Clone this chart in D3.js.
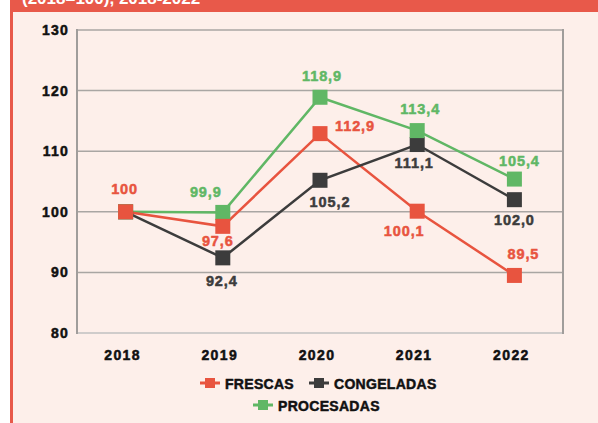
<!DOCTYPE html>
<html>
<head>
<meta charset="utf-8">
<script src="https://cdn.jsdelivr.net/npm/d3@7"></script>
<style>
  html, body { margin: 0; padding: 0; background: #fff; }
  svg { display: block; }
  /* the source type is a heavy grotesque; thicken the bold a little */
  text.heavy { paint-order: stroke; stroke-width: 0.5px; stroke-linejoin: round; }
</style>
</head>
<body>
<div id="chart"></div>
<script>
// data
const years = ["2018", "2019", "2020", "2021", "2022"];
const frescas = [100, 97.6, 112.9, 100.1, 89.5];
const congeladas = [100, 92.4, 105.2, 111.1, 102.0];
const procesadas = [100, 99.9, 118.9, 113.4, 105.4];
const yTicks = [80, 90, 100, 110, 120, 130];
const seriesNames = ["FRESCAS", "CONGELADAS", "PROCESADAS"];
// which points get a value label (2018 only labelled once, on FRESCAS)
const frescasLabels = ["100", "97,6", "112,9", "100,1", "89,5"];
const congeladasLabels = [null, "92,4", "105,2", "111,1", "102,0"];
const procesadasLabels = [null, "99,9", "118,9", "113,4", "105,4"];

// label offsets from the marker centre [dx, dy]
const frescasOff = [[-1, -23], [-5, 15], [35, -8], [-13, 20], [9, -21]];
const congeladasOff = [null, [-1, 23], [10, 22], [-3, 18], [0, 20]];
const procesadasOff = [null, [-17, -20], [2, -21], [3, -22], [5, -18]];

const colors = { red: "#e8543f", dark: "#3c3c3c", green: "#60b765" };
const FONT = "'Liberation Sans', Arial, Helvetica, sans-serif";

(function () {
  const width = 598, height = 423;
  const svg = d3.select("#chart").append("svg")
    .attr("width", width)
    .attr("height", height);

  // page background + red frame bits
  svg.append("rect").attr("x", 0).attr("y", 0).attr("width", width).attr("height", height).attr("fill", "#fff");
  svg.append("rect").attr("x", 10).attr("y", 0).attr("width", width - 10).attr("height", height).attr("fill", "#fdefea");
  svg.append("rect").attr("x", 10).attr("y", 0).attr("width", 3).attr("height", height).attr("fill", "#e8594a");
  svg.append("rect").attr("x", 10).attr("y", 0).attr("width", width - 10).attr("height", 12).attr("fill", "#e8594a");
  // header text, clipped at the top edge like the source crop
  svg.append("text")
    .attr("x", 22).attr("y", 4)
    .attr("font-family", FONT).attr("font-weight", "bold").attr("font-size", 17)
    .attr("fill", "#fff")
    .text("(2018=100), 2018-2022");

  const plot = { left: 77, right: 563, top: 30, bottom: 333 };

  const x = d3.scalePoint()
    .domain(years)
    .range([plot.left, plot.right])
    .padding(0.5);

  const y = d3.scaleLinear()
    .domain([80, 130])
    .range([plot.bottom, plot.top]);

  // gridlines
  svg.append("g").selectAll("line")
    .data(yTicks.filter(t => t > 80))
    .enter().append("line")
    .attr("x1", plot.left).attr("x2", plot.right)
    .attr("y1", d => y(d)).attr("y2", d => y(d))
    .attr("stroke", "#a9a6a3").attr("stroke-width", 1.5);

  // bottom axis line (lighter)
  svg.append("line")
    .attr("x1", plot.left).attr("x2", plot.right)
    .attr("y1", y(80)).attr("y2", y(80))
    .attr("stroke", "#cfcccb").attr("stroke-width", 2);

  // side frame
  svg.append("line")
    .attr("x1", plot.left).attr("x2", plot.left)
    .attr("y1", y(130) - 1).attr("y2", y(80) + 1)
    .attr("stroke", "#a09d9b").attr("stroke-width", 2);
  svg.append("line")
    .attr("x1", plot.right).attr("x2", plot.right)
    .attr("y1", y(130) - 1).attr("y2", y(80) + 1)
    .attr("stroke", "#a09d9b").attr("stroke-width", 2);

  // y tick labels
  svg.append("g").selectAll("text")
    .data(yTicks)
    .enter().append("text")
    .attr("class", "heavy")
    .attr("x", plot.left - 8)
    .attr("y", d => y(d) + 5)
    .attr("text-anchor", "end")
    .attr("font-family", FONT).attr("font-weight", "bold").attr("font-size", 14)
    .attr("letter-spacing", 1.2)
    .attr("fill", "#111").attr("stroke", "#111")
    .text(d => d);

  // x tick labels
  svg.append("g").selectAll("text")
    .data(years)
    .enter().append("text")
    .attr("class", "heavy")
    .attr("x", d => x(d) - 3)
    .attr("y", 360)
    .attr("text-anchor", "middle")
    .attr("font-family", FONT).attr("font-weight", "bold").attr("font-size", 14)
    .attr("letter-spacing", 1.4)
    .attr("fill", "#111").attr("stroke", "#111")
    .text(d => d);

  const series = [
    { name: seriesNames[0], values: frescas, labels: frescasLabels, off: frescasOff, color: colors.red },
    { name: seriesNames[1], values: congeladas, labels: congeladasLabels, off: congeladasOff, color: colors.dark },
    { name: seriesNames[2], values: procesadas, labels: procesadasLabels, off: procesadasOff, color: colors.green }
  ];

  const line = d3.line()
    .x((d, i) => x(years[i]))
    .y(d => y(d));

  const S = 15; // marker size

  const drawOrder = [series[2], series[0], series[1]];
  drawOrder.forEach(s => {
    svg.append("path")
      .datum(s.values)
      .attr("d", line)
      .attr("fill", "none")
      .attr("stroke", s.color)
      .attr("stroke-width", 2.5);
  });
  // markers
  const markerOrder = [series[1], series[2], series[0]];
  markerOrder.forEach(s => {
    svg.append("g").selectAll("rect")
      .data(s.values)
      .enter().append("rect")
      .attr("x", (d, i) => x(years[i]) - S / 2)
      .attr("y", d => y(d) - S / 2)
      .attr("width", S).attr("height", S)
      .attr("fill", s.color);
  });

  // value labels
  series.forEach(s => {
    svg.append("g").selectAll("text")
      .data(s.values.map((v, i) => ({ v, i })).filter(d => s.labels[d.i]))
      .enter().append("text")
      .attr("class", "heavy")
      .attr("x", d => x(years[d.i]) + s.off[d.i][0])
      .attr("y", d => y(d.v) + s.off[d.i][1] + 5)
      .attr("text-anchor", "middle")
      .attr("font-family", FONT).attr("font-weight", "bold").attr("font-size", 14.5)
      .attr("letter-spacing", 0.9)
      .attr("fill", s.color).attr("stroke", s.color)
      .text(d => s.labels[d.i]);
  });

  // legend
  const legendRows = [
    [{ s: series[0], x: 200 }, { s: series[1], x: 309 }],
    [{ s: series[2], x: 253 }]
  ];
  const legendY = [383, 405];
  legendRows.forEach((row, ri) => {
    const g = svg.append("g").attr("transform", `translate(0,${legendY[ri]})`);
    const item = g.selectAll("g").data(row).enter().append("g")
      .attr("transform", d => `translate(${d.x},0)`);
    item.append("line")
      .attr("x1", 0).attr("x2", 20).attr("y1", 0).attr("y2", 0)
      .attr("stroke", d => d.s.color).attr("stroke-width", 3);
    item.append("rect")
      .attr("x", 5).attr("y", -5).attr("width", 10).attr("height", 10)
      .attr("fill", d => d.s.color);
    item.append("text")
      .attr("class", "heavy")
      .attr("x", 25).attr("y", 5.5)
      .attr("font-family", FONT).attr("font-weight", "bold").attr("font-size", 14)
      .attr("letter-spacing", 0.3)
      .attr("fill", "#111").attr("stroke", "#111")
      .text(d => d.s.name);
  });
})();
</script>
</body>
</html>
